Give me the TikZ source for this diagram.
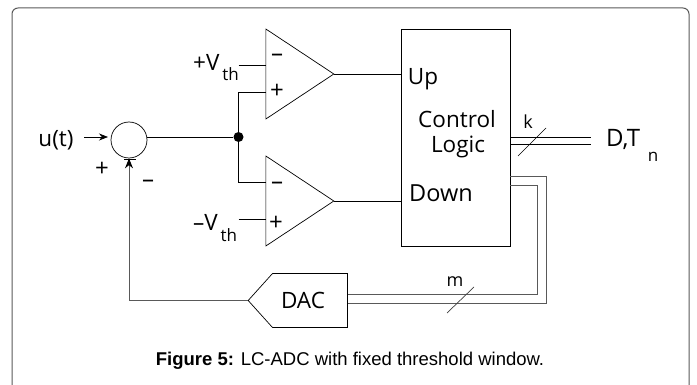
\documentclass[tikz,border=0pt]{standalone}
\usepackage{fontspec}
\setmainfont{Open Sans}
\newfontfamily\capfont{Liberation Sans}
\usetikzlibrary{shapes.geometric, shapes.symbols, positioning, arrows.meta}
\newcommand{\lowsub}[2]{\raisebox{#1}{\fontsize{17}{17}\selectfont #2}}

\tikzset{
  wire/.style={draw, line width=0.7pt},
  grayline/.style={draw, line width=1pt, black!65},
  comparator/.style={draw, isosceles triangle, isosceles triangle apex angle=67, isosceles triangle stretches, minimum width=90pt, minimum height=68pt, inner sep=0pt, anchor=lower side, line width=0.7pt},
  label/.style={inner sep=0pt, font=\fontsize{22.5}{26}\selectfont},
  smalllabel/.style={inner sep=0pt, font=\fontsize{18}{20}\selectfont},
  sign/.style={inner sep=0pt, font=\fontsize{24}{26}\selectfont}
}

\begin{document}
\begin{tikzpicture}[x=1pt, y=-1pt]
\useasboundingbox (0,0) rectangle (697,385);
\draw[line width=1pt, black!65, rounded corners=6pt] (12,385) -- (12,8) -- (689,8) -- (689,385);

% blocks
\node[comparator] (cmpup) at (265.5,74) {};
\node[comparator] (cmpdown) at (265.5,201) {};
\node[draw, circle, minimum size=36pt, inner sep=0pt, line width=0.7pt] (summer) at (129,140) {};
\node[draw, minimum width=109pt, minimum height=217pt, inner sep=0pt, line width=0.7pt] (ctrl) at (455.5,137.5) {};
\node[draw, signal, signal to=west, signal pointer angle=96, minimum width=54pt, minimum height=54pt, text width=75pt, inner sep=0pt, align=center, line width=0.7pt, label] (dac) at (310,300.5) {\hspace*{-14pt}DAC};

% free ends and branch points
\node[circle, fill=black, minimum size=10pt, inner sep=0pt] (dot) at (238.5,137) {};
\coordinate (vthup) at (238.5,65);
\coordinate (plusup) at (265.5,92);
\coordinate (minusdown) at (265.5,182);
\coordinate (vthdown) at (238.5,219);
\coordinate (uin) at (84,137);
\coordinate (utip) at (108,137);
\coordinate (out) at (591,137);
\coordinate (bustop) at (546,177);
\coordinate (businner) at (537,186);
\coordinate (kfrom) at (518,156);
\coordinate (kto) at (546,128);
\coordinate (mfrom) at (447,313);
\coordinate (mto) at (474,287);

% connectors
\draw[wire] (vthup) -- (vthup -| cmpup.lower side);
\draw[wire] (dot) |- (plusup);
\draw[wire] (dot) |- (minusdown);
\draw[wire] (vthdown) -- (vthdown -| cmpdown.lower side);
\draw[wire] (summer.east |- dot) -- (dot);
\draw[wire] (cmpup.apex) -- (cmpup.apex -| ctrl.west);
\draw[wire] (cmpdown.apex) -- (cmpdown.apex -| ctrl.west);
\draw[wire, -{Stealth[length=9pt, width=7pt]}] (uin) -- (utip);
\draw[grayline, -{Stealth[length=10pt, width=8pt, color=black]}] (dac.west) -| (summer.south);
\draw[wire] (124,159) -- (136,159);

% buses
\draw[wire] (ctrl.east |- out) -- (out);
\draw[wire] ([yshift=-7pt]ctrl.east |- out) -- ([yshift=-7pt]out);
\draw[wire] (kfrom) -- (kto);
\draw[grayline] (ctrl.east |- bustop) -- (bustop) -- (bustop |- 0,303) -- (dac.east |- 0,303);
\draw[grayline] (ctrl.east |- businner) -- (businner) -- (businner |- 0,294) -- (dac.east |- 0,294);
\draw[wire, black!75] (mfrom) -- (mto);

% labels
\node[label] (ulabel) at (56,140) {u(t)};
\node[label, anchor=base west] (vthuplabel) at (193,71) {+V\lowsub{-10pt}{\,th}};
\node[label, anchor=base west] (vthdownlabel) at (193,231) {–V\lowsub{-11pt}{\,th}};
\node[label] (uplabel) at (423,79) {Up};
\node[label] (ctrllabel1) at (457,119) {Control};
\node[label] (ctrllabel2) at (458,147) {Logic};
\node[label, font=\fontsize{23.5}{26}\selectfont] (downlabel) at (441,193) {Down};
\node[label, anchor=base west, font=\fontsize{24}{26}\selectfont] (outlabel) at (606,147) {D,T\lowsub{-15pt}{\;\,n}};
\node[smalllabel] (klabel) at (528,122) {k};
\node[smalllabel] (mlabel) at (455,282) {m};
\node[sign] (plusa) at (102,169) {+};
\node[sign] (minusa) at (148,184) {–};
\node[sign] (minusb) at (277,58) {–};
\node[sign] (plusb) at (277,91) {+};
\node[sign] (minusc) at (277,186) {–};
\node[sign] (plusc) at (276,223) {+};
\node[inner sep=0pt, font=\capfont\fontsize{18.5}{22}\selectfont] (caption) at (350,361) {\textbf{Figure 5:} LC-ADC with fixed threshold window.};
\end{tikzpicture}
\end{document}
